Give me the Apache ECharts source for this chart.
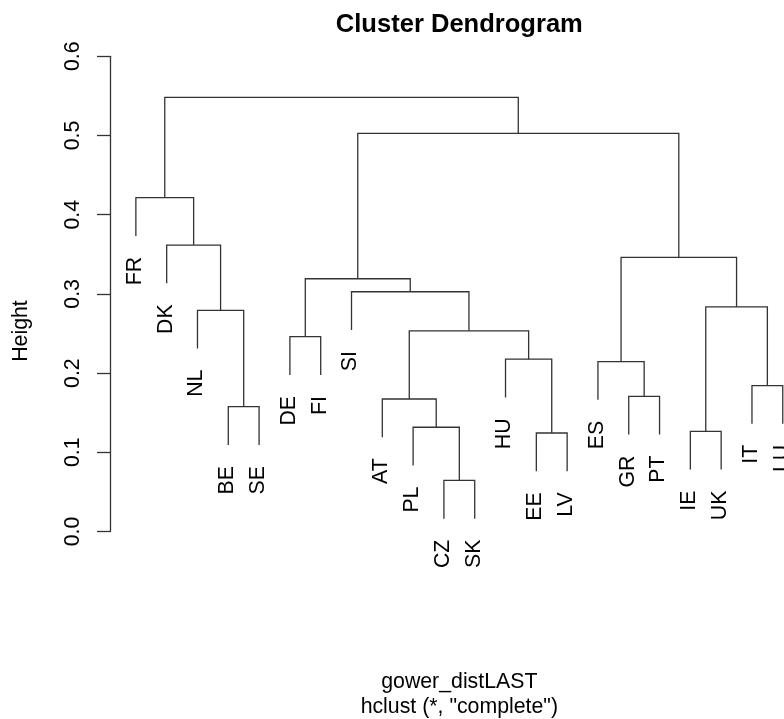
<!DOCTYPE html>
<html>
<head>
<meta charset="utf-8">
<title>Cluster Dendrogram</title>
<script src="https://cdn.jsdelivr.net/npm/echarts@6/dist/echarts.min.js"></script>
<style>
  html, body { margin: 0; padding: 0; background: #ffffff; }
  #chart { width: 784px; height: 719px; }
</style>
</head>
<body>
<div id="chart"></div>
<script>
// Leaves, in the order they are laid out from left to right
const leafLabels = ['FR', 'DK', 'NL', 'BE', 'SE', 'DE', 'FI', 'SI', 'AT', 'PL', 'CZ',
                    'SK', 'HU', 'EE', 'LV', 'ES', 'GR', 'PT', 'IE', 'UK', 'IT', 'LU'];

// Agglomeration steps, hclust style: a negative entry is a leaf (1-based position),
// a positive entry refers to an earlier step
const mergeLeft  = [-11, -14, -19, -10, -4, -9, -17, -21, -16, -13, -6, 6, -3, 3, -8, 11, 9, -2, -1, 16, 19];
const mergeRight = [-12, -15, -20, 1, -5, 4, -18, -22, 7, 2, -7, 10, 5, 8, 12, 15, 14, 13, 18, 17, 20];
const mergeHeight = [0.0646, 0.1244, 0.1265, 0.1316, 0.1576, 0.1673, 0.1707, 0.1843, 0.2146, 0.2176,
                     0.2460, 0.2534, 0.2793, 0.2835, 0.3027, 0.3191, 0.3462, 0.3617, 0.4215, 0.5028, 0.5482];

// Height axis
const heightMin = 0;
const heightMax = 0.6;
const heightStep = 0.1;

const titleText = 'Cluster Dendrogram';
const subLines = ['gower_distLAST', 'hclust (*, "complete")'];
const yName = 'Height';

const FONT = '"Liberation Sans", Arial, Helvetica, sans-serif';
const BASE = 21.3;
const LINE = '#333333';

// Leaves hang below their joining node by 10% of the height range
const hang = 0.1 * (Math.max(...mergeHeight) - Math.min(...mergeHeight));

const nodeX = [];
const childX = c => (c < 0 ? -c : nodeX[c - 1]);
const childBottom = (c, h) => (c < 0 ? h - hang : mergeHeight[c - 1]);

// One U-shaped link per step: [xLeft, xRight, bottomLeft, bottomRight, height]
const links = mergeHeight.map((h, i) => {
  const a = mergeLeft[i], b = mergeRight[i];
  const xa = childX(a), xb = childX(b);
  nodeX[i] = (xa + xb) / 2;
  return [xa, xb, childBottom(a, h), childBottom(b, h), h];
});

// Bottom end of each leaf's stem: [position, height, label index]
const leafEnds = leafLabels.map((name, k) => {
  const pos = k + 1;
  let idx = mergeLeft.indexOf(-pos);
  if (idx < 0) idx = mergeRight.indexOf(-pos);
  return [pos, mergeHeight[idx] - hang, k];
});

const chart = echarts.init(document.getElementById('chart'), null, { renderer: 'canvas' });

// Plot region spans leaf positions 0.16 .. 22.84; the canvas shows it up to 22.04
const xMin = 0.16, xMaxFull = 22.84, xMaxShown = 22.04;
const gridLeft = 110, gridTop = 56.3, gridHeight = 475.2;
const chartW = 784;
const unitPx = (chartW - gridLeft) / (xMaxShown - xMin);
const plotCenterX = gridLeft + unitPx * (xMaxFull - xMin) / 2;

chart.setOption({
  animation: false,
  backgroundColor: '#ffffff',
  title: {
    text: titleText,
    left: plotCenterX,
    top: 12,
    textAlign: 'center',
    padding: 0,
    textStyle: { fontFamily: FONT, fontSize: BASE * 1.2, fontWeight: 'bold', color: '#000' }
  },
  grid: { left: gridLeft, top: gridTop, right: 0, height: gridHeight, containLabel: false },
  xAxis: {
    type: 'value',
    min: xMin,
    max: xMaxShown,
    show: false
  },
  yAxis: {
    type: 'value',
    min: heightMin,
    max: heightMax,
    interval: heightStep,
    splitLine: { show: false },
    axisLine: { show: true, lineStyle: { color: LINE, width: 1.3 } },
    axisTick: { show: true, length: 13, lineStyle: { color: LINE, width: 1.3 } },
    axisLabel: {
      rotate: 90,
      margin: 26,
      fontFamily: FONT,
      fontSize: BASE,
      color: '#000',
      formatter: v => v.toFixed(1)
    }
  },
  graphic: [
    {
      type: 'text',
      x: 32,
      y: 331,
      rotation: Math.PI / 2,
      style: { text: yName, font: `${BASE}px ${FONT}`, fill: '#000', align: 'center', verticalAlign: 'bottom' }
    },
    {
      type: 'text',
      x: plotCenterX,
      y: 672,
      style: { text: subLines[0], font: `${BASE}px ${FONT}`, fill: '#000', align: 'center', verticalAlign: 'top' }
    },
    {
      type: 'text',
      x: plotCenterX,
      y: 696.5,
      style: { text: subLines[1], font: `${BASE}px ${FONT}`, fill: '#000', align: 'center', verticalAlign: 'top' }
    }
  ],
  series: [
    {
      // Tree links
      type: 'custom',
      clip: false,
      silent: true,
      data: links,
      renderItem: (params, api) => {
        const xa = api.value(0), xb = api.value(1);
        const ya = api.value(2), yb = api.value(3), h = api.value(4);
        const pts = [
          api.coord([xa, ya]),
          api.coord([xa, h]),
          api.coord([xb, h]),
          api.coord([xb, yb])
        ];
        return {
          type: 'polyline',
          shape: { points: pts },
          style: { stroke: LINE, lineWidth: 1.3, fill: null }
        };
      }
    },
    {
      // Leaf labels, written upward below each stem
      type: 'custom',
      clip: false,
      silent: true,
      data: leafEnds,
      renderItem: (params, api) => {
        const p = api.coord([api.value(0), api.value(1)]);
        return {
          type: 'text',
          x: p[0] - 1,
          y: p[1] + 21,
          rotation: Math.PI / 2,
          style: {
            text: leafLabels[api.value(2)],
            font: `${BASE}px ${FONT}`,
            fill: '#000',
            align: 'right',
            verticalAlign: 'middle'
          }
        };
      }
    }
  ]
});
</script>
</body>
</html>
